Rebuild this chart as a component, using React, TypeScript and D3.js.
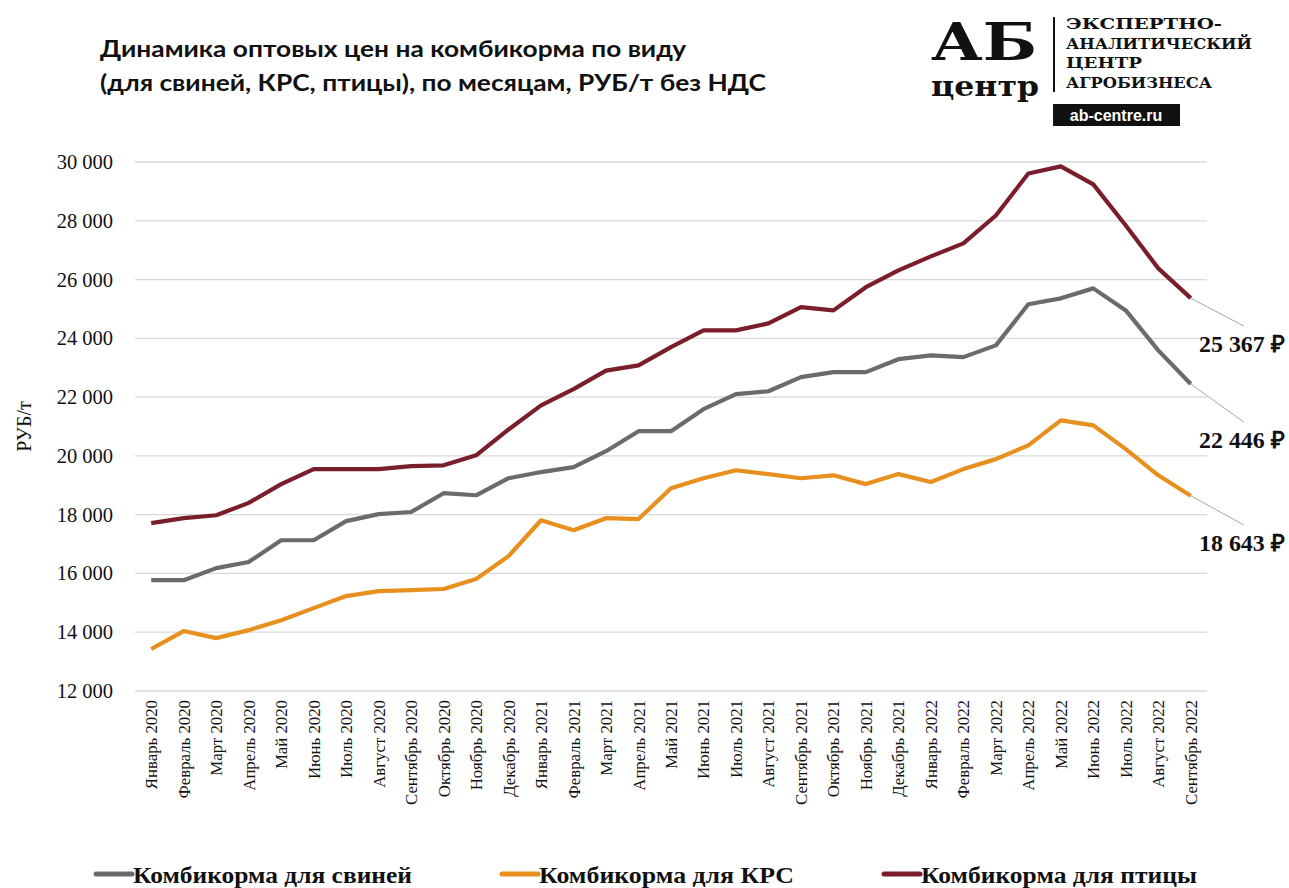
import React from 'react';
import * as d3 from 'd3';

const months = ['Январь', 'Февраль', 'Март', 'Апрель', 'Май', 'Июнь', 'Июль', 'Август', 'Сентябрь', 'Октябрь', 'Ноябрь', 'Декабрь'];
const categories: string[] = [];
[2020, 2021, 2022].forEach((yr) => months.forEach((m, i) => {
    if (yr < 2022 || i < 9) categories.push(m + ' ' + yr);
}));

const pigs = [15770, 15770, 16180, 16390, 17130, 17130, 17780, 18020, 18090, 18730, 18660, 19240,
    19450, 19620, 20160, 20840, 20840, 21590, 22100, 22200, 22680, 22850, 22850, 23290,
    23420, 23360, 23760, 25160, 25360, 25700, 24950, 23590, 22446];
const cattle = [13430, 14040, 13800, 14070, 14410, 14820, 15230, 15400, 15430, 15470, 15810, 16590,
    17810, 17470, 17880, 17850, 18900, 19240, 19510, 19380, 19240, 19340, 19040, 19380,
    19110, 19550, 19890, 20360, 21210, 21040, 20230, 19340, 18643];
const poultry = [17710, 17880, 17980, 18400, 19040, 19550, 19550, 19550, 19650, 19680, 20020, 20900,
    21720, 22270, 22900, 23080, 23700, 24270, 24270, 24510, 25060, 24950, 25740, 26310,
    26790, 27230, 28180, 29610, 29850, 29240, 27840, 26380, 25367];

const yTicks = [12000, 14000, 16000, 18000, 20000, 22000, 24000, 26000, 28000, 30000];
const logoLines = ['ЭКСПЕРТНО-', 'АНАЛИТИЧЕСКИЙ', 'ЦЕНТР', 'АГРОБИЗНЕСА'];
const logoWidths = [156, 186, 76, 146];

const series = [
    {name: 'Комбикорма для свиней', values: pigs, color: '#6b6b6b', legendX: 96, textLen: 279, labelY: 448},
    {name: 'Комбикорма для КРС', values: cattle, color: '#e8901f', legendX: 502, textLen: 255, labelY: 551},
    {name: 'Комбикорма для птицы', values: poultry, color: '#7a1e2b', legendX: 884, textLen: 276, labelY: 352},
];

const W = 1289, H = 888;
const plot = {left: 135, right: 1207, top: 162, bottom: 691};

const fmt = (v: number) => d3.format(',')(v).replace(/,/g, ' ');

export default function App() {
    const x = d3.scalePoint<string>().domain(categories).range([plot.left, plot.right]).padding(0.5);
    const y = d3.scaleLinear().domain([12000, 30000]).range([plot.bottom, plot.top]);
    const line = d3.line<number>().x((d, i) => x(categories[i]) as number).y((d) => y(d));
    const lastX = x(categories[categories.length - 1]) as number;

    const serif = '"Liberation Serif", "Times New Roman", serif';
    const titleFont = 'Lato, "Open Sans", sans-serif';

    return (
        <svg width={W} height={H} style={{position: 'absolute', left: 0, top: 0, background: '#fff'}}>
            {/* title */}
            <text x={100} y={57} fontFamily={titleFont} fontWeight="bold" fontSize={23} fill="#111"
                  textLength={586} lengthAdjust="spacingAndGlyphs">
                Динамика оптовых цен на комбикорма по виду
            </text>
            <text x={100} y={91} fontFamily={titleFont} fontWeight="bold" fontSize={23} fill="#111"
                  textLength={666} lengthAdjust="spacingAndGlyphs">
                (для свиней, КРС, птицы), по месяцам, РУБ/т без НДС
            </text>

            {/* logo */}
            <g fill="#111">
                <text x={931} y={60} fontFamily='"DejaVu Serif", serif' fontWeight="bold" fontSize={52} textLength={106} lengthAdjust="spacingAndGlyphs">АБ</text>
                <text x={931} y={96} fontFamily='"DejaVu Serif", serif' fontWeight="bold" fontSize={28} textLength={108} lengthAdjust="spacingAndGlyphs">центр</text>
                <rect x={1053} y={17} width={2} height={75} />
                {logoLines.map((t, i) => (
                    <text key={t} x={1066} y={29 + i * 19.5} fontFamily='"DejaVu Serif", serif' fontWeight="bold" fontSize={15}
                          textLength={logoWidths[i]} lengthAdjust="spacingAndGlyphs">{t}</text>
                ))}
                <rect x={1053} y={104} width={127} height={22} />
                <text x={1116} y={121} textAnchor="middle" fontFamily='"Liberation Sans", Arial, sans-serif' fontWeight="bold" fontSize={16} fill="#fff">ab-centre.ru</text>
            </g>

            {/* grid and y axis */}
            {yTicks.map((t) => (
                <g key={t}>
                    <line x1={plot.left} x2={plot.right} y1={y(t)} y2={y(t)} stroke="#d9d9d9" strokeWidth={1.3} />
                    <text x={113} y={y(t) + 7} textAnchor="end" fontFamily={serif} fontSize={20.5} fill="#111">{fmt(t)}</text>
                </g>
            ))}
            <text transform={`translate(31,${(plot.top + plot.bottom) / 2}) rotate(-90)`} textAnchor="middle"
                  fontFamily={serif} fontSize={20} fill="#111">РУБ/т</text>

            {/* x labels */}
            {categories.map((c) => (
                <text key={c} transform={`translate(${(x(c) as number) + 6},${plot.bottom + 9}) rotate(-90)`}
                      textAnchor="end" fontFamily={serif} fontSize={16.8} fill="#111">{c}</text>
            ))}

            {/* lines */}
            {series.map((s) => (
                <path key={s.name} d={line(s.values) as string} fill="none" stroke={s.color} strokeWidth={4.2}
                      strokeLinejoin="round" />
            ))}

            {/* end labels */}
            {series.map((s) => {
                const v = s.values[s.values.length - 1];
                return (
                    <g key={s.name + 'lbl'}>
                        <line x1={lastX} y1={y(v)} x2={lastX + 53} y2={s.labelY - 26} stroke="#a6a6a6" strokeWidth={1} />
                        <text x={1199} y={s.labelY} fontFamily={serif} fontWeight="bold" fontSize={23.5} fill="#111"
                              textLength={86} lengthAdjust="spacingAndGlyphs">
                            {fmt(v)} ₽
                        </text>
                    </g>
                );
            })}

            {/* legend */}
            {series.map((s) => (
                <g key={s.name + 'leg'}>
                    <line x1={s.legendX} x2={s.legendX + 36} y1={874} y2={874} stroke={s.color} strokeWidth={5} strokeLinecap="round" />
                    <text x={s.legendX + 37} y={883} fontFamily={serif} fontWeight="bold" fontSize={24} fill="#111"
                          textLength={s.textLen} lengthAdjust="spacingAndGlyphs">{s.name}</text>
                </g>
            ))}
        </svg>
    );
}
